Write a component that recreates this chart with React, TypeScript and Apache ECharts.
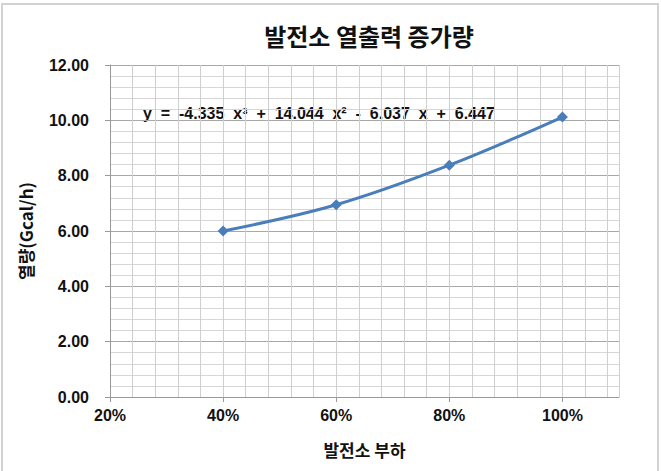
import React, { useEffect, useRef } from "react";
import * as echarts from "echarts";

const loads = [0.4, 0.6, 0.8, 1.0];
const heat = [6.0, 6.95, 8.38, 10.12];
const xTickValues = [0.2, 0.4, 0.6, 0.8, 1.0];
const titleText = "발전소 열출력 증가량";
const xName = "발전소 부하";
const yName = "열량(Gcal/h)";
const equation = "y  =  -4.335  x³  +  14.044  x²  -  6.037  x  +  6.447";

export default function App() {
  const ref = useRef<HTMLDivElement>(null);
  useEffect(() => {
    if (!ref.current) return;
    const chart = echarts.init(ref.current, null, { renderer: "svg" });
    const font = "'Liberation Sans', Arial, sans-serif";
    const kfont = "'Noto Sans CJK KR', sans-serif";
    chart.setOption({
      animation: false,
      backgroundColor: "#ffffff",
      title: {
        text: titleText,
        left: 364,
        top: 18,
        textAlign: "center",
        textStyle: { fontFamily: kfont, fontSize: 24, fontWeight: "bold", color: "#111" },
      },
      grid: { left: 110, top: 65, right: 42, bottom: 74 },
      xAxis: [
        {
          type: "value",
          min: 0.2,
          max: 1.1,
          interval: 0.2,
          name: xName,
          nameLocation: "middle",
          nameGap: 44,
          nameTextStyle: { fontFamily: kfont, fontSize: 17, fontWeight: "bold", color: "#111" },
          axisLine: { show: true, lineStyle: { color: "#999", width: 1 } },
          axisTick: { show: true, length: 5, lineStyle: { color: "#999" }, customValues: xTickValues },
          axisLabel: {
            customValues: xTickValues,
            margin: 10,
            fontFamily: font,
            fontSize: 16,
            fontWeight: "bold",
            color: "#111",
            formatter: (v: number) => Math.round(v * 100) + "%",
          },
          splitLine: { show: false },
        },
        {
          type: "value",
          min: 0.2,
          max: 1.1,
          interval: 0.04,
          axisLine: { show: false },
          axisTick: { show: false },
          axisLabel: { show: false },
          splitLine: { show: true, lineStyle: { color: "#cfcfcf", width: 1 } },
        },
      ],
      yAxis: {
        type: "value",
        min: 0,
        max: 12,
        interval: 2,
        name: yName,
        nameLocation: "middle",
        nameGap: 76,
        nameRotate: 90,
        nameTextStyle: { fontFamily: kfont, fontSize: 17, fontWeight: "bold", color: "#111" },
        axisLine: { show: true, lineStyle: { color: "#999", width: 1 } },
        axisTick: { show: true, length: 5, lineStyle: { color: "#999" } },
        axisLabel: {
          margin: 21,
          fontFamily: font,
          fontSize: 16,
          fontWeight: "bold",
          color: "#111",
          formatter: (v: number) => v.toFixed(2),
        },
        splitLine: { show: true, lineStyle: { color: "#a8a8a8", width: 1 } },
        minorTick: { show: false, splitNumber: 5 },
        minorSplitLine: { show: true, lineStyle: { color: "#d6d6d6", width: 1 } },
      },
      graphic: [
        {
          type: "rect",
          shape: { x: 2, y: 4, width: 656, height: 480 },
          style: { fill: "none", stroke: "#d2d2d2", lineWidth: 2 },
          silent: true,
        },
        {
          type: "text",
          left: 143,
          top: 105,
          style: {
            text: equation,
            fontFamily: font,
            fontSize: 16,
            fontWeight: "bold",
            fill: "#111",
          },
        },
      ],
      series: [
        {
          type: "line",
          xAxisIndex: 0,
          data: loads.map((x, i) => [x, heat[i]]),
          smooth: 0.35,
          symbol: "diamond",
          symbolSize: 11,
          lineStyle: { color: "#4a7ebb", width: 3 },
          itemStyle: { color: "#4a7ebb" },
        },
      ],
    });
    return () => chart.dispose();
  }, []);
  return (
    <div
      ref={ref}
      style={{ position: "fixed", left: 0, top: 0, width: 661, height: 471, background: "#fff" }}
    />
  );
}
